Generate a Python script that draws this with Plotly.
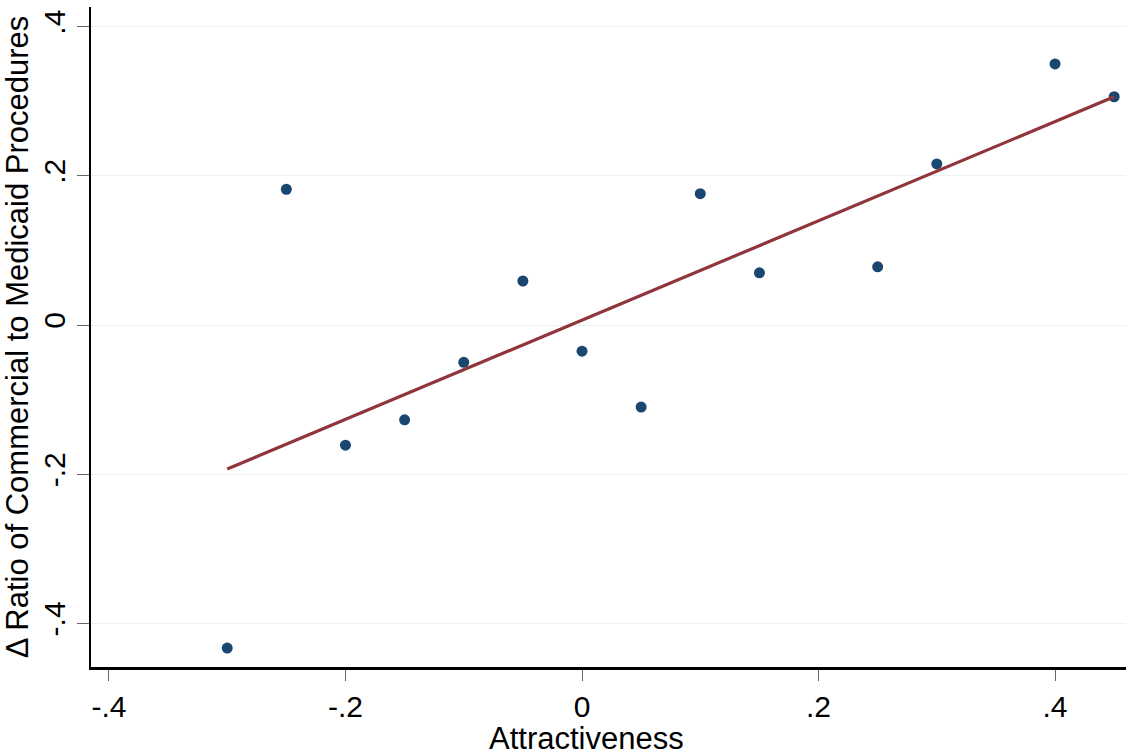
import plotly.graph_objects as go

# Data
attract = [-0.30, -0.25, -0.20, -0.15, -0.10, -0.05, 0.00, 0.05, 0.10, 0.15, 0.25, 0.30, 0.40, 0.45]
ratio_change = [-0.433, 0.182, -0.161, -0.127, -0.050, 0.059, -0.035, -0.110, 0.176, 0.070, 0.078, 0.216, 0.350, 0.306]

fit_x = [-0.30, 0.45]
fit_y = [-0.193, 0.306]

tick_vals = [-0.4, -0.2, 0.0, 0.2, 0.4]
tick_text = ["-.4", "-.2", "0", ".2", ".4"]

x_title = "Attractiveness"
y_title = "Δ Ratio of Commercial to Medicaid Procedures"

FONT = "Liberation Sans, Arial, sans-serif"

fig = go.Figure()
fig.add_trace(go.Scatter(
    x=attract, y=ratio_change, mode="markers",
    marker=dict(color="#1a476f", size=11, line=dict(width=0)),
    showlegend=False, cliponaxis=False,
))
fig.add_trace(go.Scatter(
    x=fit_x, y=fit_y, mode="lines",
    line=dict(color="#90353b", width=3.2),
    showlegend=False,
))

fig.update_layout(
    width=1126, height=755,
    margin=dict(l=91, r=0, t=7, b=88),
    paper_bgcolor="white", plot_bgcolor="white",
    font=dict(family=FONT, size=30, color="black"),
    xaxis=dict(
        range=[-0.4152, 0.460],
        tickvals=tick_vals, ticktext=tick_text,
        ticks="outside", ticklen=11, tickwidth=1, tickcolor="#666",
        showline=True, linecolor="black", linewidth=2.5,
        showgrid=False, zeroline=False,
        tickfont=dict(size=30),
    ),
    yaxis=dict(
        range=[-0.4584, 0.4263],
        tickvals=tick_vals, ticktext=tick_text,
        ticks="outside", ticklen=12, tickwidth=1, tickcolor="#666",
        tickangle=-90,
        showline=True, linecolor="black", linewidth=2,
        showgrid=True, gridcolor="#eaf2f3", gridwidth=1,
        zeroline=False,
        tickfont=dict(size=30),
        title=dict(text=y_title, font=dict(size=31), standoff=2),
    ),
    annotations=[dict(
        text=x_title, xref="paper", yref="paper",
        x=0.479, y=-0.108, xanchor="center", yanchor="middle",
        showarrow=False, font=dict(size=31, family=FONT, color="black"),
    )],
)

fig.write_html("out.html")
